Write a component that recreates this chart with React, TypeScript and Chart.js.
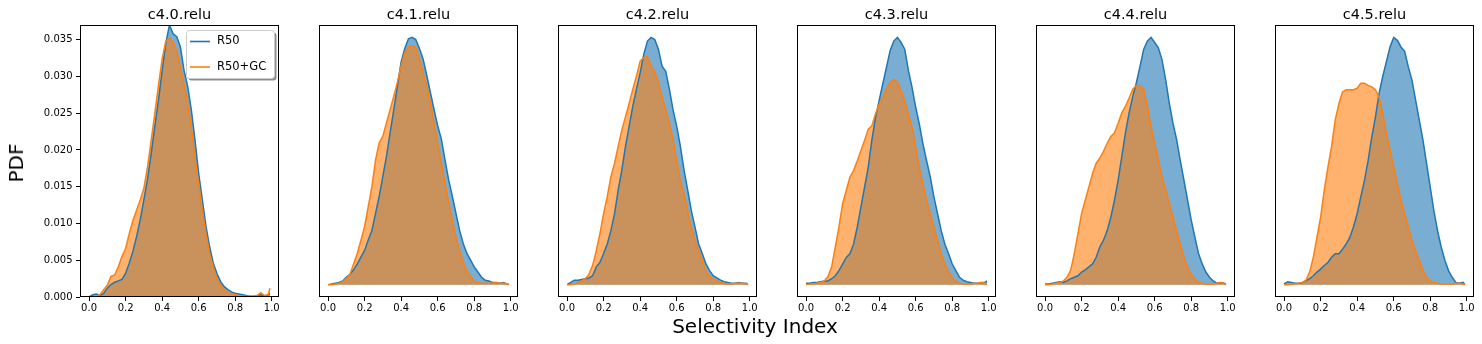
import React, { useEffect, useRef } from "react";
import { Chart, registerables } from "chart.js";

Chart.register(...registerables);

// ---------- data ----------
const xValues = [
  0.0, 0.02, 0.04, 0.06, 0.08, 0.1, 0.12, 0.14, 0.16, 0.18,
  0.2, 0.22, 0.24, 0.26, 0.28, 0.3, 0.32, 0.34, 0.36, 0.38,
  0.4, 0.42, 0.44, 0.46, 0.48, 0.5, 0.52, 0.54, 0.56, 0.58,
  0.6, 0.62, 0.64, 0.66, 0.68, 0.7, 0.72, 0.74, 0.76, 0.78,
  0.8, 0.82, 0.84, 0.86, 0.88, 0.9, 0.92, 0.94, 0.96, 0.98, 0.99,
];

const panelTitles = ["c4.0.relu", "c4.1.relu", "c4.2.relu", "c4.3.relu", "c4.4.relu", "c4.5.relu"];
const seriesLabels = ["R50", "R50+GC"];
const xTickValues = [0, 0.2, 0.4, 0.6, 0.8, 1.0];
const yTickValues = [0, 0.005, 0.01, 0.015, 0.02, 0.025, 0.03, 0.035];
const xAxisTitle = "Selectivity Index";
const yAxisTitle = "PDF";

const r50C40 = [
  0.0, 0.0003, 0.0004, 0.0002, 0.0005, 0.0012, 0.0017, 0.002, 0.0022, 0.0024,
  0.0032, 0.0046, 0.0062, 0.0082, 0.0105, 0.0132, 0.016, 0.0195, 0.0232, 0.0268,
  0.0308, 0.0345, 0.037, 0.0358, 0.0354, 0.034, 0.0308, 0.0286, 0.0254, 0.0213,
  0.0168, 0.0132, 0.0096, 0.0068, 0.0046, 0.0032, 0.0021, 0.0014, 0.001, 0.0007,
  0.0005, 0.0004, 0.0003, 0.0002, 0.0001, 0.0001, 0.0002, 0.0003, 0.0001, 0.0003, 0.0005,
];
const gcC40 = [
  0.0, 0.0, 0.0001, 0.0003, 0.001, 0.0016, 0.0028, 0.003, 0.0041, 0.0055,
  0.0066, 0.0086, 0.0104, 0.0118, 0.0132, 0.0148, 0.0177, 0.0213, 0.025, 0.0288,
  0.0324, 0.0348, 0.0352, 0.0347, 0.0335, 0.0313, 0.029, 0.0263, 0.0231, 0.019,
  0.0154, 0.0118, 0.0086, 0.0059, 0.0041, 0.0025, 0.0016, 0.001, 0.0006, 0.0004,
  0.0003, 0.0002, 0.0001, 0.0001, 0.0001, 0.0001, 0.0002, 0.0006, 0.0002, 0.0003, 0.0012,
];

const r50C41 = [
  0.0, 0.0001, 0.0002, 0.0003, 0.0005, 0.001, 0.0014, 0.002, 0.0028, 0.0037,
  0.0046, 0.006, 0.0073, 0.0096, 0.0119, 0.0146, 0.0173, 0.0205, 0.0236, 0.0268,
  0.03, 0.0318, 0.0331, 0.0333, 0.033, 0.0318, 0.0304, 0.0282, 0.0259, 0.0236,
  0.0214, 0.0196, 0.0168, 0.0141, 0.0119, 0.0096, 0.0073, 0.0055, 0.0042, 0.0033,
  0.0024, 0.0017, 0.001, 0.0006, 0.0005, 0.0003, 0.0003, 0.0002, 0.0003, 0.0001, 0.0,
];
const gcC41 = [
  0.0, 0.0, 0.0001, 0.0002, 0.0004, 0.0008, 0.0014, 0.0028, 0.0042, 0.006,
  0.0078, 0.0105, 0.0132, 0.0168, 0.0191, 0.02, 0.0218, 0.0236, 0.0254, 0.0273,
  0.0295, 0.0313, 0.032, 0.0322, 0.032, 0.0304, 0.0286, 0.0268, 0.0245, 0.0218,
  0.0191, 0.0164, 0.0137, 0.011, 0.0087, 0.0064, 0.0046, 0.003, 0.0019, 0.0011,
  0.0005, 0.0003, 0.0002, 0.0002, 0.0002, 0.0002, 0.0003, 0.0002, 0.0002, 0.0001, 0.0,
];

const r50C42 = [
  0.0, 0.0003, 0.0006, 0.0006, 0.0007, 0.0008, 0.0009, 0.0012, 0.0024, 0.003,
  0.0042, 0.0055, 0.0073, 0.0096, 0.0128, 0.0155, 0.0187, 0.0214, 0.0241, 0.0264,
  0.0286, 0.0311, 0.0329, 0.0334, 0.0331, 0.0318, 0.0295, 0.0288, 0.0264, 0.0236,
  0.0214, 0.0187, 0.0155, 0.0128, 0.01, 0.0078, 0.0055, 0.0042, 0.0028, 0.0019,
  0.0012, 0.0009, 0.0006, 0.0004, 0.0003, 0.0002, 0.0002, 0.0003, 0.0002, 0.0002, 0.0,
];
const gcC42 = [
  0.0, 0.0, 0.0001, 0.0003, 0.0005, 0.0008, 0.0014, 0.0026, 0.0046, 0.0069,
  0.0096, 0.0119, 0.0146, 0.0164, 0.0187, 0.0209, 0.0227, 0.0245, 0.0264, 0.0282,
  0.0302, 0.0307, 0.0308, 0.0295, 0.0288, 0.0273, 0.0254, 0.0236, 0.0218, 0.0196,
  0.0168, 0.0141, 0.0123, 0.01, 0.0078, 0.006, 0.0046, 0.0033, 0.0019, 0.0012,
  0.0008, 0.0005, 0.0003, 0.0002, 0.0001, 0.0001, 0.0002, 0.0002, 0.0002, 0.0001, 0.0,
];

const r50C43 = [
  0.0002, 0.0002, 0.0003, 0.0003, 0.0004, 0.0005, 0.0005, 0.0008, 0.0012, 0.0019,
  0.0028, 0.0037, 0.0042, 0.0055, 0.0078, 0.0105, 0.0132, 0.0159, 0.0196, 0.0227,
  0.025, 0.0273, 0.0295, 0.0318, 0.0331, 0.0336, 0.0329, 0.032, 0.0291, 0.0268,
  0.0241, 0.0218, 0.0191, 0.0168, 0.0146, 0.0119, 0.0096, 0.0073, 0.0055, 0.0042,
  0.0028, 0.0019, 0.001, 0.0006, 0.0004, 0.0003, 0.0002, 0.0002, 0.0003, 0.0003, 0.0005,
];
const gcC43 = [
  0.0, 0.0001, 0.0001, 0.0002, 0.0003, 0.0005, 0.0011, 0.0024, 0.0051, 0.0078,
  0.011, 0.0128, 0.0146, 0.0155, 0.0168, 0.0182, 0.0196, 0.0211, 0.0216, 0.0232,
  0.0245, 0.0254, 0.0266, 0.0275, 0.0279, 0.0275, 0.0264, 0.025, 0.0232, 0.0214,
  0.0187, 0.0159, 0.0137, 0.0114, 0.0096, 0.0078, 0.006, 0.0042, 0.0028, 0.0017,
  0.001, 0.0005, 0.0002, 0.0001, 0.0001, 0.0001, 0.0002, 0.0002, 0.0003, 0.0002, 0.0,
];

const r50C44 = [
  0.0001, 0.0001, 0.0002, 0.0003, 0.0004, 0.0003, 0.0005, 0.0008, 0.001, 0.0012,
  0.0017, 0.002, 0.0024, 0.0028, 0.0037, 0.0051, 0.006, 0.0073, 0.0091, 0.0114,
  0.0141, 0.0173, 0.0205, 0.0232, 0.0254, 0.0273, 0.0295, 0.0318, 0.0329, 0.0334,
  0.0327, 0.032, 0.0304, 0.0277, 0.0245, 0.0218, 0.0196, 0.0168, 0.0141, 0.0114,
  0.0087, 0.0064, 0.0042, 0.0028, 0.0017, 0.001, 0.0005, 0.0002, 0.0003, 0.0002, 0.0,
];
const gcC44 = [
  0.0, 0.0, 0.0001, 0.0002, 0.0003, 0.0005, 0.001, 0.0019, 0.0042, 0.0069,
  0.0096, 0.0114, 0.0132, 0.015, 0.0164, 0.0171, 0.018, 0.0191, 0.02, 0.0205,
  0.0218, 0.0232, 0.0241, 0.0252, 0.0264, 0.0269, 0.0269, 0.0264, 0.0241, 0.0214,
  0.0191, 0.0168, 0.0146, 0.0128, 0.011, 0.0091, 0.0073, 0.0055, 0.0037, 0.0024,
  0.0014, 0.0008, 0.0003, 0.0002, 0.0001, 0.0001, 0.0001, 0.0002, 0.0003, 0.0002, 0.0,
];

const r50C45 = [
  0.0001, 0.0004, 0.0003, 0.0002, 0.0002, 0.0003, 0.0005, 0.0008, 0.0012, 0.0017,
  0.0021, 0.0026, 0.003, 0.0037, 0.0042, 0.0042, 0.0048, 0.0055, 0.0064, 0.0078,
  0.0096, 0.0119, 0.0141, 0.0168, 0.02, 0.0227, 0.0259, 0.0282, 0.0302, 0.0322,
  0.0335, 0.0331, 0.0322, 0.0316, 0.0295, 0.0277, 0.025, 0.0223, 0.0196, 0.0164,
  0.0132, 0.01, 0.0073, 0.0051, 0.0033, 0.0019, 0.001, 0.0003, 0.0002, 0.0003, 0.0,
];
const gcC45 = [
  0.0, 0.0, 0.0001, 0.0001, 0.0002, 0.0003, 0.0006, 0.0017, 0.0037, 0.0064,
  0.0091, 0.0128, 0.0159, 0.0187, 0.0223, 0.0245, 0.0261, 0.0264, 0.0264, 0.0264,
  0.0266, 0.0273, 0.0273, 0.027, 0.0268, 0.0264, 0.0254, 0.0232, 0.0205, 0.0182,
  0.0159, 0.0137, 0.0114, 0.0096, 0.0078, 0.006, 0.0046, 0.0033, 0.0019, 0.001,
  0.0005, 0.0003, 0.0002, 0.0001, 0.0001, 0.0001, 0.0001, 0.0002, 0.0002, 0.0001, 0.0,
];

const r50Series = [r50C40, r50C41, r50C42, r50C43, r50C44, r50C45];
const gcSeries = [gcC40, gcC41, gcC42, gcC43, gcC44, gcC45];

// ---------- styling ----------
const FONT = "DejaVu Sans";
const BLUE = "#1f77b4";
const ORANGE = "#ff7f0e";
const BLUE_FILL = "rgba(31,119,180,0.6)";
const ORANGE_FILL = "rgba(255,127,14,0.6)";

const PANEL_LEFT0 = 80;
const PANEL_STEP = 239;
const PANEL_W = 199;
const FIG_H = 344;
const AREA_BOTTOM = 297;
const PAD_RIGHT = 8;
const PAD_LEFT_OTHER = 20;

const framePlugin = {
  id: "frame",
  afterDraw(chart: any) {
    const { ctx, chartArea } = chart;
    const l = Math.round(chartArea.left);
    const t = Math.round(chartArea.top);
    const r = Math.round(chartArea.right);
    const b = Math.round(chartArea.bottom);
    ctx.save();
    ctx.strokeStyle = "#000";
    ctx.lineWidth = 1;
    ctx.strokeRect(l + 0.5, t + 0.5, r - l - 1, b - t - 1);
    ctx.restore();
  },
};

function roundRectPath(ctx: any, x: number, y: number, w: number, h: number, r: number) {
  ctx.beginPath();
  ctx.moveTo(x + r, y);
  ctx.lineTo(x + w - r, y);
  ctx.quadraticCurveTo(x + w, y, x + w, y + r);
  ctx.lineTo(x + w, y + h - r);
  ctx.quadraticCurveTo(x + w, y + h, x + w - r, y + h);
  ctx.lineTo(x + r, y + h);
  ctx.quadraticCurveTo(x, y + h, x, y + h - r);
  ctx.lineTo(x, y + r);
  ctx.quadraticCurveTo(x, y, x + r, y);
  ctx.closePath();
}

const legendPlugin = {
  id: "boxLegend",
  afterDraw(chart: any) {
    const { ctx, chartArea } = chart;
    const w = 88;
    const h = 48;
    const x = Math.round(chartArea.right) - 5 - w;
    const y = Math.round(chartArea.top) + 5;
    ctx.save();
    roundRectPath(ctx, x + 2.5, y + 2.5, w, h, 3);
    ctx.fillStyle = "rgba(0,0,0,0.45)";
    ctx.fill();
    roundRectPath(ctx, x + 0.5, y + 0.5, w, h, 3);
    ctx.fillStyle = "#ffffff";
    ctx.fill();
    ctx.strokeStyle = "#cccccc";
    ctx.lineWidth = 1;
    ctx.stroke();
    const colors = [BLUE, ORANGE];
    seriesLabels.forEach((label, i) => {
      const cy = y + 11.5 + i * 25.5;
      ctx.strokeStyle = colors[i];
      ctx.lineWidth = 1.6;
      ctx.beginPath();
      ctx.moveTo(x + 4, cy);
      ctx.lineTo(x + 24, cy);
      ctx.stroke();
      ctx.fillStyle = "#000";
      ctx.font = `11.5px "${FONT}"`;
      ctx.textBaseline = "middle";
      ctx.textAlign = "left";
      ctx.fillText(label, x + 31, cy);
    });
    ctx.restore();
  },
};

function Panel({ index }: { index: number }) {
  const ref = useRef<HTMLCanvasElement | null>(null);
  const showY = index === 0;
  const areaLeft = PANEL_LEFT0 + PANEL_STEP * index;
  const padLeft = showY ? 0 : PAD_LEFT_OTHER;
  const yAxisWidth = showY ? areaLeft : 0;
  const canvasLeft = areaLeft - (showY ? yAxisWidth : padLeft);
  const canvasW = (showY ? yAxisWidth : padLeft) + PANEL_W + PAD_RIGHT;

  useEffect(() => {
    const blue = r50Series[index];
    const orange = gcSeries[index];
    const peak = Math.max(...blue, ...orange);
    const yMin = showY ? 0 : -0.05 * peak;
    const yMax = showY ? 0.037 : 1.05 * peak;

    const tickFont = { family: FONT, size: 10 };
    const chart = new Chart(ref.current as HTMLCanvasElement, {
      type: "line",
      data: {
        datasets: [
          {
            label: seriesLabels[0],
            data: xValues.map((x, i) => ({ x, y: blue[i] })),
            borderColor: BLUE,
            backgroundColor: BLUE_FILL,
            fill: "origin",
            borderWidth: 1.5,
            pointRadius: 0,
            tension: 0,
            order: 2,
          },
          {
            label: seriesLabels[1],
            data: xValues.map((x, i) => ({ x, y: orange[i] })),
            borderColor: ORANGE,
            backgroundColor: ORANGE_FILL,
            fill: "origin",
            borderWidth: 1.5,
            pointRadius: 0,
            tension: 0,
            order: 1,
          },
        ],
      },
      options: {
        animation: false,
        responsive: false,
        events: [],
        layout: { padding: { left: padLeft, right: PAD_RIGHT, top: 0, bottom: 0 } },
        plugins: {
          legend: { display: false },
          tooltip: { enabled: false },
          filler: { drawTime: "beforeDatasetsDraw" },
          title: {
            display: true,
            fullSize: false,
            text: panelTitles[index],
            color: "#000",
            font: { family: FONT, size: 14.5, weight: "normal" },
            padding: { top: 6.3, bottom: 1.3 },
          },
        },
        scales: {
          x: {
            type: "linear",
            min: -0.0495,
            max: 1.0395,
            afterBuildTicks: (s: any) => {
              s.ticks = xTickValues.map((v) => ({ value: v }));
            },
            afterFit: (s: any) => {
              s.height = FIG_H - AREA_BOTTOM;
            },
            grid: { drawOnChartArea: false, drawTicks: true, tickLength: 4, color: "#000", tickColor: "#000" },
            border: { display: false },
            ticks: {
              color: "#000",
              font: tickFont,
              padding: 1,
              maxRotation: 0,
              autoSkip: false,
              callback: (v: any) => Number(v).toFixed(1),
            },
          },
          y: showY
            ? {
                type: "linear",
                min: yMin,
                max: yMax,
                afterBuildTicks: (s: any) => {
                  s.ticks = yTickValues.map((v) => ({ value: v }));
                },
                afterFit: (s: any) => {
                  s.width = yAxisWidth;
                },
                grid: { drawOnChartArea: false, drawTicks: true, tickLength: 4, color: "#000", tickColor: "#000" },
                border: { display: false },
                ticks: {
                  color: "#000",
                  font: tickFont,
                  padding: 3.5,
                  autoSkip: false,
                  callback: (v: any) => Number(v).toFixed(3),
                },
              }
            : { type: "linear", display: false, min: yMin, max: yMax },
        },
      },
      plugins: showY ? [framePlugin, legendPlugin] : [framePlugin],
    } as any);
    return () => chart.destroy();
  }, [index]);

  return (
    <canvas
      ref={ref}
      width={canvasW}
      height={FIG_H}
      style={{ position: "absolute", left: canvasLeft, top: 0, width: canvasW, height: FIG_H }}
    />
  );
}

export default function App() {
  return (
    <div
      style={{
        position: "absolute",
        left: 0,
        top: 0,
        width: 1482,
        height: FIG_H,
        overflow: "hidden",
        background: "#fff",
        fontFamily: FONT,
      }}
    >
      {panelTitles.map((_, i) => (
        <Panel key={i} index={i} />
      ))}
      <div
        style={{
          position: "absolute",
          left: 16,
          top: 163,
          fontSize: 20,
          lineHeight: "20px",
          color: "#000",
          whiteSpace: "nowrap",
          transform: "translate(-50%, -50%) rotate(-90deg)",
        }}
      >
        {yAxisTitle}
      </div>
      <div
        style={{
          position: "absolute",
          left: 755,
          top: 316,
          fontSize: 20,
          lineHeight: "20px",
          color: "#000",
          whiteSpace: "nowrap",
          transform: "translateX(-50%)",
        }}
      >
        {xAxisTitle}
      </div>
    </div>
  );
}
